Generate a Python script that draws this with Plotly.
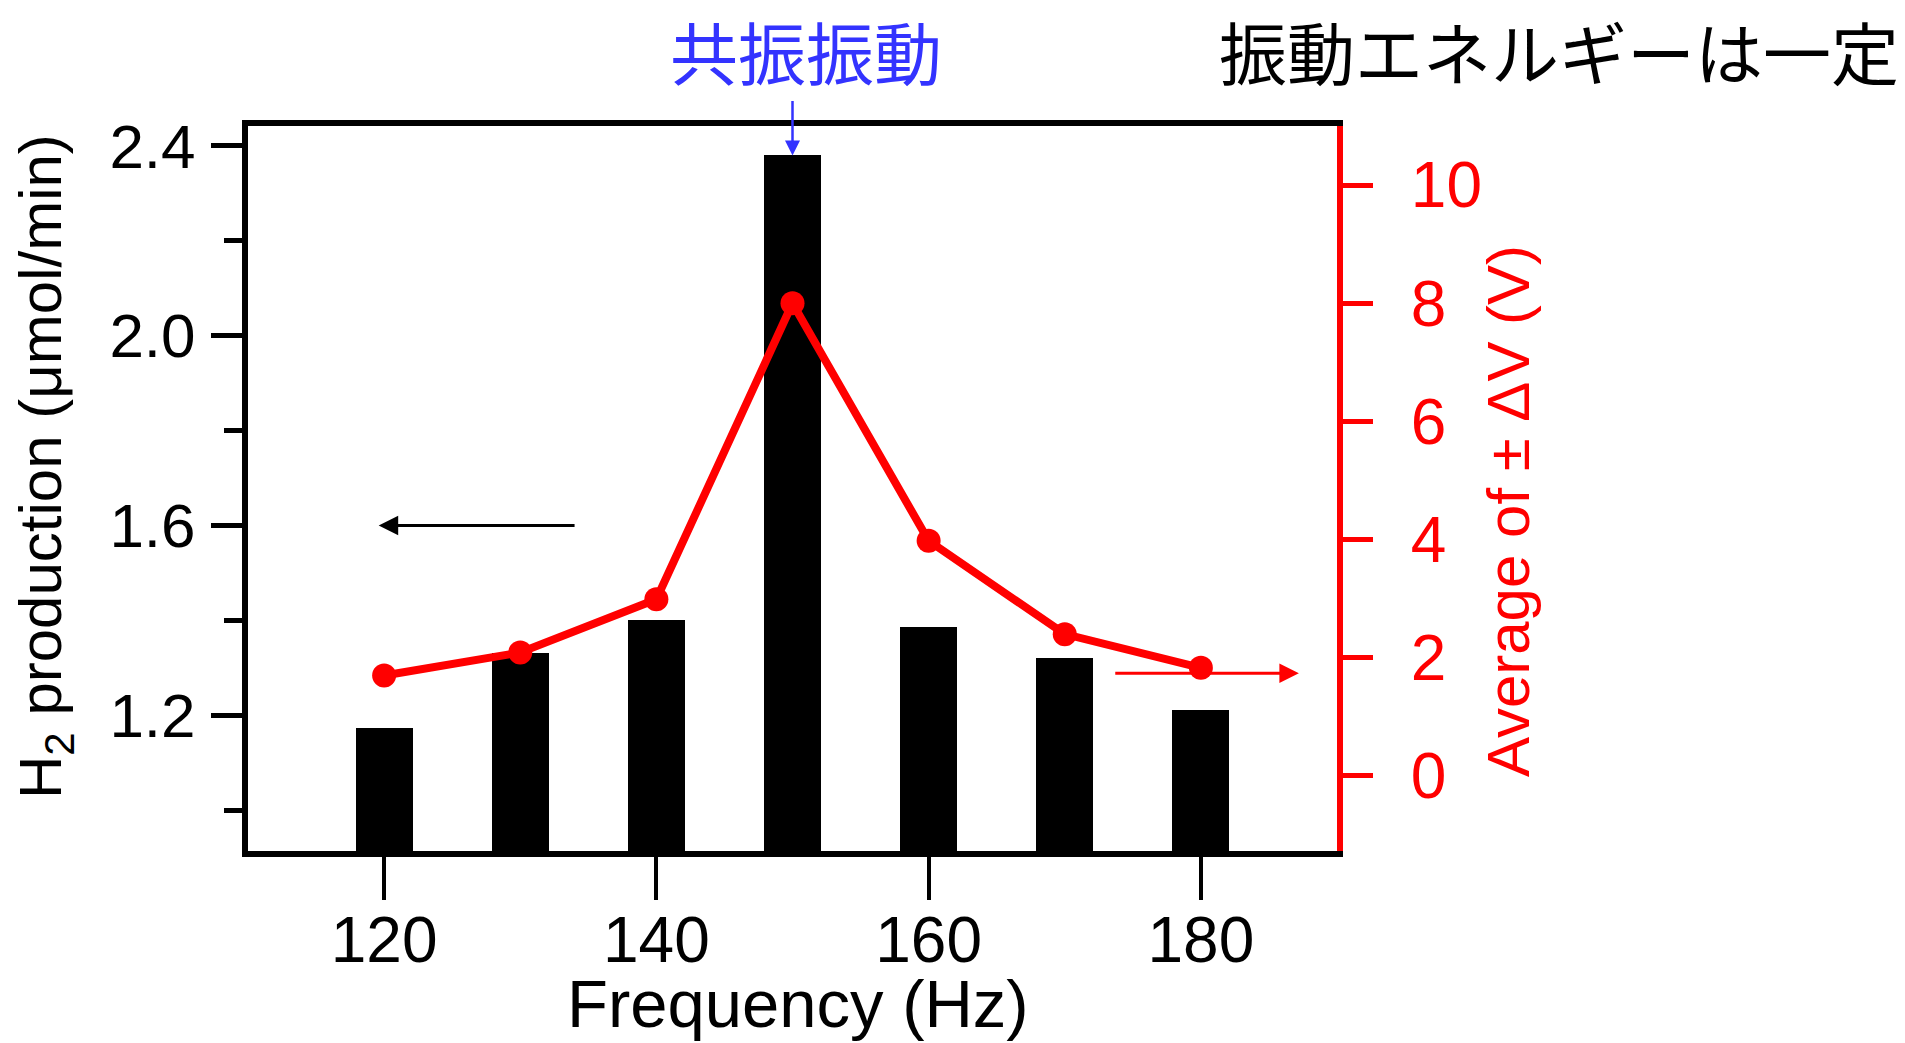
import plotly.graph_objects as go

# ---- data ----
freq = [120, 130, 140, 150, 160, 170, 180]                 # Hz
h2_production = [1.174, 1.332, 1.401, 2.380, 1.387, 1.320, 1.212]  # µmol/min (left axis, bars)
avg_dv = [1.70, 2.09, 2.99, 8.00, 3.98, 2.40, 1.83]         # V (right axis, line)

x_ticks = [120, 140, 160, 180]
y_ticks = [1.2, 1.6, 2.0, 2.4]
y_ticktext = ["1.2", "1.6", "2.0", "2.4"]
y_minor = [1.0, 1.4, 1.8, 2.2]
y2_ticks = [0, 2, 4, 6, 8, 10]

LATIN = "Liberation Sans, Arial, sans-serif"
CJK = "Noto Sans CJK JP, sans-serif"
RED = "#ff0000"
BLUE = "#3333ff"

fig = go.Figure()
fig.add_trace(go.Bar(x=freq, y=h2_production, width=4.2,
                     marker=dict(color="black", line=dict(width=0)),
                     yaxis="y", showlegend=False))
fig.add_trace(go.Scatter(x=freq, y=avg_dv, mode="lines+markers",
                         line=dict(color=RED, width=8),
                         marker=dict(color=RED, size=24),
                         yaxis="y2", showlegend=False))

fig.update_layout(
    width=1905, height=1043,
    margin=dict(l=248, r=568, t=126, b=192, pad=0),
    paper_bgcolor="white", plot_bgcolor="white",
    bargap=0,
    xaxis=dict(range=[110, 190], tickvals=x_ticks, ticks="outside", ticklen=43,
               tickwidth=4, tickcolor="black", showline=True, linewidth=6,
               linecolor="black", mirror=True, showgrid=False, zeroline=False,
               tickfont=dict(family=LATIN, size=64, color="black"),
               ticklabelstandoff=-15),
    yaxis=dict(range=[0.914, 2.442], tickvals=y_ticks, ticktext=y_ticktext,
               ticks="outside", ticklen=31, tickwidth=5, tickcolor="black",
               showline=True, linewidth=6, linecolor="black",
               showgrid=False, zeroline=False,
               minor=dict(tickvals=y_minor, ticks="outside", ticklen=18,
                          tickwidth=5, tickcolor="black", showgrid=False),
               tickfont=dict(family=LATIN, size=62, color="black"),
               ticklabelstandoff=3),
    yaxis2=dict(range=[-1.27, 11.0], tickvals=y2_ticks, overlaying="y",
                side="right", ticks="outside", ticklen=30, tickwidth=5,
                tickcolor=RED, showline=True, linewidth=6, linecolor=RED,
                showgrid=False, zeroline=False,
                tickfont=dict(family=LATIN, size=64, color=RED),
                ticklabelstandoff=25),
)

C = dict(xanchor="center", yanchor="middle", showarrow=False)
annotations = [
    # axis titles
    dict(text="Frequency (Hz)", xref="paper", yref="paper", x=0.5050, y=-0.210,
         font=dict(family=LATIN, size=67, color="black"), **C),
    dict(text="H<sub>2</sub> production (μmol/min)", xref="paper", yref="paper",
         x=-0.1864, y=0.5297, textangle=-90,
         font=dict(family=LATIN, size=60, color="black"), **C),
    dict(text="Average of ± ΔV (V)", xref="paper", yref="paper",
         x=1.1580, y=0.469, textangle=-90,
         font=dict(family=LATIN, size=60, color=RED), **C),
    # top texts
    dict(text="共振振動", xref="paper", yref="paper", x=0.5124, y=1.1048,
         font=dict(family=CJK, size=68, color=BLUE), **C),
    dict(text="振動エネルギーは一定", xref="paper", yref="paper", x=1.2040, y=1.1048,
         font=dict(family=CJK, size=68, color="black"), **C),
    # blue arrow to resonance bar
    dict(text="", x=freq[3], y=h2_production[3], xref="x", yref="y",
         ax=0, ay=-56, showarrow=True, arrowhead=2, arrowsize=1.2,
         arrowwidth=2.5, arrowcolor=BLUE, standoff=0),
    # black arrow -> left axis
    dict(text="", x=119.6, y=1.6, xref="x", yref="y", ax=134.1, ay=1.6,
         axref="x", ayref="y", showarrow=True, arrowhead=2, arrowsize=1.3,
         arrowwidth=3, arrowcolor="black", standoff=0),
    # red arrow -> right axis
    dict(text="", x=187.2, y=1.74, xref="x", yref="y2", ax=173.6, ay=1.74,
         axref="x", ayref="y2", showarrow=True, arrowhead=2, arrowsize=1.3,
         arrowwidth=3, arrowcolor=RED, standoff=0),
]
fig.update_layout(annotations=annotations)

fig.write_html("out.html", config={"displayModeBar": False},
               post_script="document.body.style.margin='0';document.body.style.overflow='hidden';")
